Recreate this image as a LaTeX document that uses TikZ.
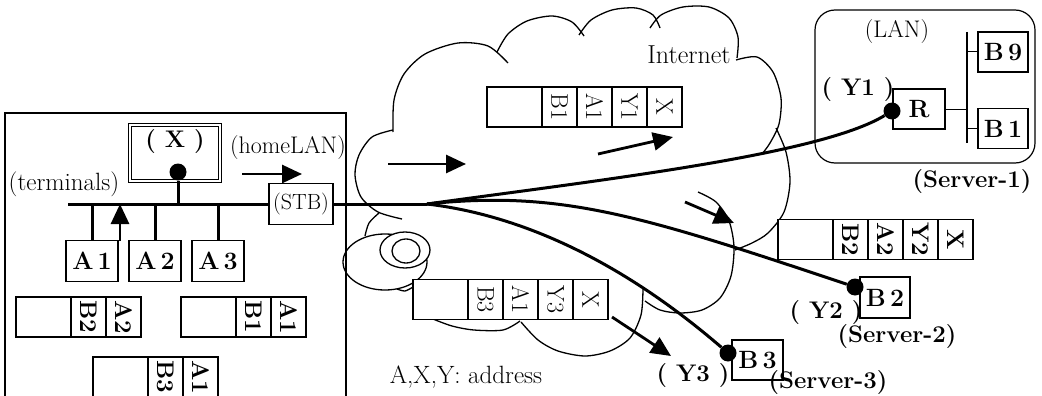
\documentclass[tikz,border=0pt]{standalone}
\usetikzlibrary{arrows.meta}
\begin{document}
\begin{tikzpicture}[x=1pt, y=-1pt,
  lbl/.style={inner sep=0pt, font=\fontsize{24}{28}\selectfont},
  blbl/.style={inner sep=0pt, font=\fontsize{24}{28}\selectfont\bfseries},
  box/.style={draw, line width=1.1pt, fill=white, minimum width=52pt, minimum height=41pt, inner sep=0pt, font=\fontsize{25}{28}\selectfont\bfseries},
  blank/.style={draw, line width=1.1pt, fill=white, minimum width=55pt, minimum height=40pt, inner sep=0pt},
  cell/.style={draw, line width=1.1pt, fill=white, minimum width=35pt, minimum height=40pt, inner sep=0pt, font=\fontsize{24}{26}\selectfont},
  bcell/.style={cell, font=\fontsize{24}{26}\selectfont\bfseries},
  pdot/.style={circle, fill, minimum size=17pt, inner sep=0pt},
  wire/.style={line width=3pt},
  flow/.style={line width=2.8pt, -{Triangle[length=20pt,width=18pt]}},
  cline/.style={line width=1.3pt}]
\useasboundingbox (0,0) rectangle (1042,396);
\clip (0,0) rectangle (1042,396);
% home network
\draw[line width=1.2pt] (5,400) -- (5,113) -- (346,113) -- (346,400);
\node[lbl, font=\fontsize{25}{28}\selectfont] (tterm) at (64,184) {(terminals)};
\node[lbl] (thome) at (288,148) {(homeLAN)};
\node[draw, double, double distance=2pt, line width=0.9pt, minimum width=90pt, minimum height=56pt] (xbox) at (175,153) {};
\node[blbl] (txx) at (175,142) {( X )};
\node[box] (a1) at (92,261) {A\,1};
\node[box] (a2) at (155,261) {A\,2};
\node[box] (a3) at (218,261) {A\,3};
\node[box, minimum width=64pt, font=\fontsize{22}{26}\selectfont] (stb) at (301,204) {(STB)};
\coordinate (busl) at (68,204);
\coordinate (up0) at (120,241);
\coordinate (hl0) at (242,174);
\coordinate (hl1) at (302,174);
\draw[wire] (busl) -- (stb.west);
\draw[wire] (a1.north) -- (a1.north |- busl);
\draw[wire] (a2.north) -- (a2.north |- busl);
\draw[wire] (a3.north) -- (a3.north |- busl);
\draw[flow] (up0) -- (up0 |- busl);
\draw[flow] (hl0) -- (hl1);
\node[pdot] (xdot) at (178,172) {};
\draw[wire] (xdot) -- (xdot |- busl);
% packets at home
\node[blank] (pk1) at (43.5,317) {};
\node[bcell] (pk1a) at (88.5,317) {\rotatebox{-90}{B2}};
\node[bcell] (pk1b) at (123.5,317) {\rotatebox{-90}{A2}};
\node[blank] (pk2) at (208.5,317) {};
\node[bcell] (pk2a) at (253.5,317) {\rotatebox{-90}{B1}};
\node[bcell] (pk2b) at (288.5,317) {\rotatebox{-90}{A1}};
\node[blank] (pk3) at (120.5,377) {};
\node[bcell] (pk3a) at (165.5,377) {\rotatebox{-90}{B3}};
\node[bcell] (pk3b) at (200.5,377) {\rotatebox{-90}{A1}};
% internet cloud
\draw[cline] plot[smooth] coordinates {(393,130) (372,137) (359,155) (355,175) (361,197) (378,212) (402,219)};
\draw[cline] plot[smooth] coordinates {(393,132) (394,100) (404,74) (425,54) (458,43) (488,46) (508,63)};
\draw[cline] plot[smooth] coordinates {(497,52) (508,34) (527,21) (552,16) (572,22) (584,36)};
\draw[cline] plot[smooth] coordinates {(579,35) (591,20) (612,10) (636,8) (653,15) (660,28)};
\draw[cline] plot[smooth] coordinates {(650,28) (661,15) (683,7) (709,7) (729,18) (738,37) (737,58)};
\draw[cline] plot[smooth] coordinates {(736,60) (757,57) (773,72) (781,98) (779,124) (770,143) (762,154)};
\draw[cline] plot[smooth] coordinates {(776,128) (786,152) (790,182) (784,212) (768,233) (752,243) (735,250)};
\draw[cline] plot[smooth] coordinates {(698,192) (716,202) (729,221) (734,247) (731,276) (720,298) (702,310) (680,313) (660,310) (645,301)};
\draw[cline] plot[smooth] coordinates {(643,289) (641,315) (630,338) (610,351) (585,356) (558,351) (538,340) (521,322)};
\draw[cline] plot[smooth] coordinates {(520,321) (503,330) (474,330) (452,326) (433,319)};
\draw[cline] plot[smooth] coordinates {(379,213) (369,223) (365,236)};
\draw[cline] plot[smooth] coordinates {(397,289) (405,291) (413,287)};
\draw[cline] (385,262) ellipse [x radius=42, y radius=28];
\draw[cline, fill=white] (405,250) ellipse [x radius=25, y radius=18];
\draw[cline] (406,251) ellipse [x radius=14, y radius=12];
\node[lbl, font=\fontsize{26}{30}\selectfont] (tnet) at (689,55) {Internet};
\node[lbl, font=\fontsize{25}{28}\selectfont] (taddr) at (466,377) {A,X,Y: address};
% packets on the way
\node[blank] (pk4) at (514.5,107) {};
\node[cell] (pk4a) at (559.5,107) {\rotatebox{-90}{B1}};
\node[cell] (pk4b) at (594.5,107) {\rotatebox{-90}{A1}};
\node[cell] (pk4c) at (629.5,107) {\rotatebox{-90}{Y1}};
\node[cell] (pk4d) at (664.5,107) {\rotatebox{-90}{X}};
\node[blank] (pk5) at (805.5,239.5) {};
\node[bcell] (pk5a) at (850.5,239.5) {\rotatebox{-90}{B2}};
\node[bcell] (pk5b) at (885.5,239.5) {\rotatebox{-90}{A2}};
\node[bcell] (pk5c) at (920.5,239.5) {\rotatebox{-90}{Y2}};
\node[bcell] (pk5d) at (955.5,239.5) {\rotatebox{-90}{X}};
\node[blank] (pk6) at (440.5,299.5) {};
\node[cell] (pk6a) at (485.5,299.5) {\rotatebox{-90}{B3}};
\node[cell] (pk6b) at (520.5,299.5) {\rotatebox{-90}{A1}};
\node[cell] (pk6c) at (555.5,299.5) {\rotatebox{-90}{Y3}};
\node[cell] (pk6d) at (590.5,299.5) {\rotatebox{-90}{X}};
\coordinate (fa0) at (388,164);
\coordinate (fa1) at (466,164);
\coordinate (fb0) at (598,154);
\coordinate (fb1) at (673,137);
\coordinate (fc0) at (685,202);
\coordinate (fc1) at (734,223);
\coordinate (fd0) at (612,317);
\coordinate (fd1) at (671,356);
\draw[flow] (fa0) -- (fa1);
\draw[flow] (fb0) -- (fb1);
\draw[flow] (fc0) -- (fc1);
\draw[flow] (fd0) -- (fd1);
% server-1 LAN
\draw[line width=1.2pt, rounded corners=20pt] (815,10) rectangle (1035,163);
\node[lbl] (tlan) at (897,32) {(LAN)};
\node[box, minimum width=52pt, minimum height=40pt] (rbox) at (919,109) {R};
\node[box, minimum width=50pt, minimum height=40pt] (b9) at (1003,52) {B\,9};
\node[box, minimum width=50pt, minimum height=40pt] (b1) at (1003,128.5) {B\,1};
\coordinate (lant) at (967,32);
\coordinate (lanb) at (967,143);
\draw[line width=1.5pt] (lant) -- (lanb);
\draw[line width=1pt] (rbox.east) -- (rbox.east -| lant);
\draw[line width=1pt] (b9.west -| lant) -- (b9.west);
\draw[line width=1pt] (b1.west -| lant) -- (b1.west);
\node[blbl] (ty1) at (858,90) {( Y1 )};
\node[blbl] (ts1) at (972,182) {(Server-1)};
% servers 2 and 3
\node[box, minimum width=50pt] (b2) at (885,297.5) {B\,2};
\node[blbl] (ty2) at (826,313) {( Y2 )};
\node[blbl] (ts2) at (897,337) {(Server-2)};
\node[box, minimum width=51pt, minimum height=40pt] (b3) at (757.5,360) {B\,3};
\node[blbl] (ty3) at (693,376) {( Y3 )};
\node[blbl] (ts3) at (828,383) {(Server-3)};
% routes
\coordinate (sp) at (427,204);
\node[pdot] (ydot1) at (892,111) {};
\node[pdot] (ydot2) at (855,287) {};
\node[pdot] (ydot3) at (728,353) {};
\draw[wire] (stb.east) -- (sp);
\draw[wire] (sp) .. controls (600,180) and (820,155) .. (ydot1);
\draw[wire] (sp) .. controls (560,190) and (640,215) .. (ydot2);
\draw[wire] (sp) .. controls (520,215) and (620,260) .. (ydot3);
\end{tikzpicture}
\end{document}
